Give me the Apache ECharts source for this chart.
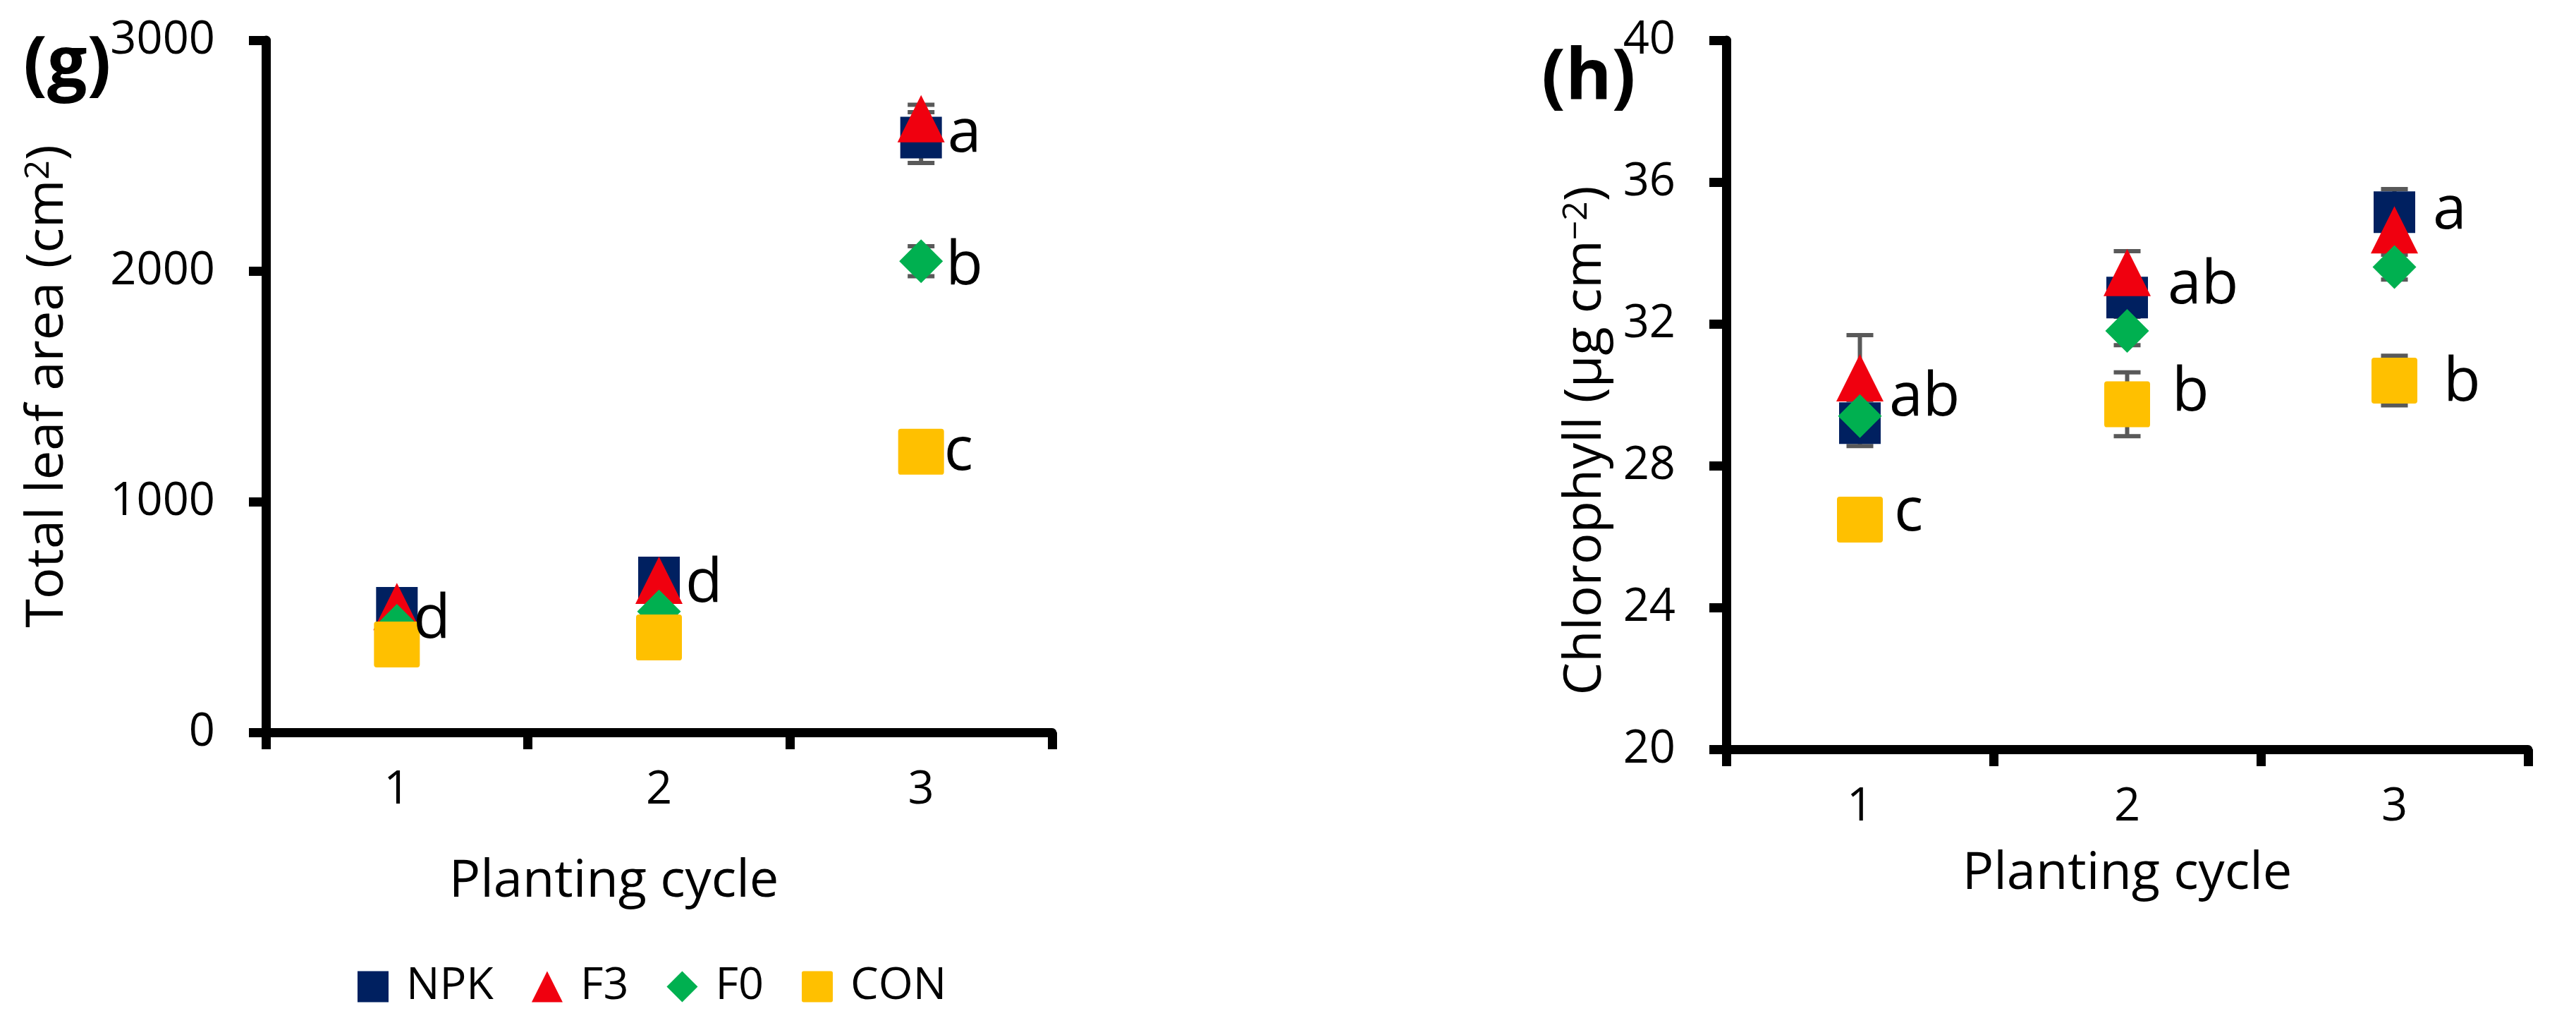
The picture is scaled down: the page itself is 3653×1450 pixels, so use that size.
<!DOCTYPE html>
<html>
<head>
<meta charset="utf-8">
<script src="https://cdn.jsdelivr.net/npm/echarts@6/dist/echarts.min.js"></script>
<style>
  html, body { margin: 0; padding: 0; background: #fff; }
  #charts { width: 3653px; height: 1450px; }
</style>
</head>
<body>
<div id="charts"></div>
<script>
// categories and series
var cycles = ['1', '2', '3'];
var treatments = ['NPK', 'F3', 'F0', 'CON'];

// (g) total leaf area, cm2
var leafNPK = [540, 671, 2578];
var leafF3 = [545, 659, 2660];
var leafF0 = [462, 524, 2042];
var leafCON = [381, 411, 1216];
var leafErrNPK = [30, 40, 110];
var leafErrF3 = [30, 40, 60];
var leafErrF0 = [20, 30, 65];
var leafErrCON = [20, 30, 40];
var leafTicks = [0, 1000, 2000, 3000];

// (h) chlorophyll, ug cm-2
var chlNPK = [29.2, 32.74, 35.15];
var chlF3 = [30.48, 33.45, 34.65];
var chlF0 = [29.4, 31.8, 33.6];
var chlCON = [26.48, 29.73, 30.4];
var chlErrNPK = [0.65, 0.5, 0.65];
var chlErrF3 = [1.2, 0.6, 0.4];
var chlErrF0 = [0.3, 0.4, 0.35];
var chlErrCON = [0.2, 0.9, 0.7];
var chlTicks = [20, 24, 28, 32, 36, 40];

// significance letters (per series, per cycle)
var leafLetters = { NPK: ['d', 'd', 'a'], F3: ['', '', ''], F0: ['', '', 'b'], CON: ['', '', 'c'] };
var chlLetters = { NPK: ['', '', 'a'], F3: ['ab', 'ab', ''], F0: ['', '', ''], CON: ['c', 'b', 'b'] };
// letter offsets [dx, dy] beside the marker
var leafLetterShift = { NPK: [[-6, 18], [8, 10], [8, -4]], F0: [null, null, [4, 8]], CON: [null, null, [0, 1]] };
var chlLetterShift = { NPK: [null, null, [25, -1]], F3: [[8, 29], [24, 19], null], CON: [[16, -9], [31, -16], [37, 4]] };

var FONT = 'Open Sans';
var colors = { NPK: '#002060', F3: '#f0000f', F0: '#00b050', CON: '#ffc000' };
var symbols = {
  NPK: 'rect',
  F3: 'triangle',
  F0: 'diamond',
  CON: 'path://M6,0H94Q100,0 100,6V94Q100,100 94,100H6Q0,100 0,94V6Q0,0 6,0Z'
};
var sizes = { NPK: [59, 59], F3: [67, 67], F0: [62, 62], CON: [65, 65] };

function pointSeries(name, values, letters, shifts, axisIdx) {
  var data = values.map(function (v, i) {
    var item = { value: v };
    if (letters[i]) {
      item.label = {
        show: true,
        formatter: letters[i],
        position: 'right',
        distance: 0,
        offset: shifts[i],
        fontSize: 86,
        fontFamily: FONT,
        color: '#000'
      };
    }
    return item;
  });
  return {
    name: name,
    type: 'scatter',
    xAxisIndex: axisIdx,
    yAxisIndex: axisIdx,
    symbol: symbols[name],
    symbolSize: sizes[name],
    itemStyle: { color: colors[name], opacity: 1 },
    z: 3,
    data: data
  };
}

function errorSeries(axisIdx, means, errs) {
  var data = [];
  for (var s = 0; s < means.length; s++) {
    for (var c = 0; c < cycles.length; c++) {
      data.push([c, means[s][c] - errs[s][c], means[s][c] + errs[s][c]]);
    }
  }
  return {
    type: 'custom',
    xAxisIndex: axisIdx,
    yAxisIndex: axisIdx,
    silent: true,
    z: 1,
    encode: { x: 0, y: [1, 2] },
    renderItem: function (params, api) {
      var lo = api.coord([api.value(0), api.value(1)]);
      var hi = api.coord([api.value(0), api.value(2)]);
      var w = 19;
      var st = { stroke: '#595959', lineWidth: 6 };
      return {
        type: 'group',
        children: [
          { type: 'line', shape: { x1: lo[0], y1: lo[1], x2: hi[0], y2: hi[1] }, style: st },
          { type: 'line', shape: { x1: lo[0] - w, y1: lo[1], x2: lo[0] + w, y2: lo[1] }, style: st },
          { type: 'line', shape: { x1: hi[0] - w, y1: hi[1], x2: hi[0] + w, y2: hi[1] }, style: st }
        ]
      };
    },
    data: data
  };
}

var axisLine = { show: true, lineStyle: { color: '#000', width: 13 } };
var axisTick = { show: true, length: 24, lineStyle: { color: '#000', width: 13 } };
var tickLabel = { fontSize: 65, fontFamily: FONT, color: '#000' };
var nameStyle = { fontSize: 74, fontFamily: FONT, color: '#000', rich: { s: { fontSize: 48, fontFamily: FONT, color: '#000', verticalAlign: 'top' } } };

function xAxis(idx, nameGap, pad) {
  return {
    type: 'category',
    gridIndex: idx,
    data: cycles,
    boundaryGap: true,
    axisLine: axisLine,
    axisTick: { show: true, length: 24, interval: 0, alignWithLabel: false, lineStyle: { color: '#000', width: 13 } },
    axisLabel: Object.assign({ margin: 50, interval: 0 }, tickLabel),
    splitLine: { show: false },
    name: 'Planting cycle',
    nameLocation: 'middle',
    nameGap: nameGap,
    nameTextStyle: Object.assign({ padding: pad }, nameStyle)
  };
}

function yAxis(idx, ticks, name, nameGap, pad) {
  return {
    type: 'value',
    gridIndex: idx,
    min: ticks[0],
    max: ticks[ticks.length - 1],
    interval: ticks[1] - ticks[0],
    axisLine: axisLine,
    axisTick: axisTick,
    axisLabel: Object.assign({ margin: 72, formatter: function (v) { return String(v); } }, tickLabel),
    splitLine: { show: false },
    name: name,
    nameLocation: 'middle',
    nameGap: nameGap,
    nameTextStyle: Object.assign({ padding: pad }, nameStyle)
  };
}

var leafMeans = [leafNPK, leafF3, leafF0, leafCON];
var leafErrs = [leafErrNPK, leafErrF3, leafErrF0, leafErrCON];
var chlMeans = [chlNPK, chlF3, chlF0, chlCON];
var chlErrs = [chlErrNPK, chlErrF3, chlErrF0, chlErrCON];

var series = [errorSeries(0, leafMeans, leafErrs), errorSeries(1, chlMeans, chlErrs)];
treatments.forEach(function (t, i) {
  series.push(pointSeries(t, leafMeans[i], leafLetters[t], leafLetterShift[t] || [], 0));
});
treatments.forEach(function (t, i) {
  series.push(pointSeries(t, chlMeans[i], chlLetters[t], chlLetterShift[t] || [], 1));
});

var chart = echarts.init(document.getElementById('charts'));
chart.setOption({
  backgroundColor: '#fff',
  animation: false,
  title: [
    { text: '(g)', left: 28, top: 40, textStyle: { fontSize: 100, fontWeight: 'bold', fontFamily: FONT, color: '#000' } },
    { text: '(h)', left: 2181, top: 58, textStyle: { fontSize: 100, fontWeight: 'bold', fontFamily: FONT, color: '#000' } }
  ],
  legend: {
    data: treatments,
    left: 502,
    top: 1362,
    itemWidth: 44,
    itemHeight: 44,
    itemGap: 54,
    textStyle: { fontSize: 63, fontFamily: FONT, color: '#000', padding: [0, 0, 0, 20] }
  },
  grid: [
    { left: 377, top: 57, width: 1115, height: 981 },
    { left: 2448, top: 57, width: 1137, height: 1005 }
  ],
  xAxis: [xAxis(0, 175, [0, 128, 0, 0]), xAxis(1, 140, [0, 0, 0, 0])],
  yAxis: [
    yAxis(0, leafTicks, 'Total leaf area (cm{s|2})', 272, [0, 0, 0, 0]),
    yAxis(1, chlTicks, 'Chlorophyll (μg cm{s|−2})', 162, [0, 130, 0, 0])
  ],
  series: series
});
</script>
</body>
</html>
